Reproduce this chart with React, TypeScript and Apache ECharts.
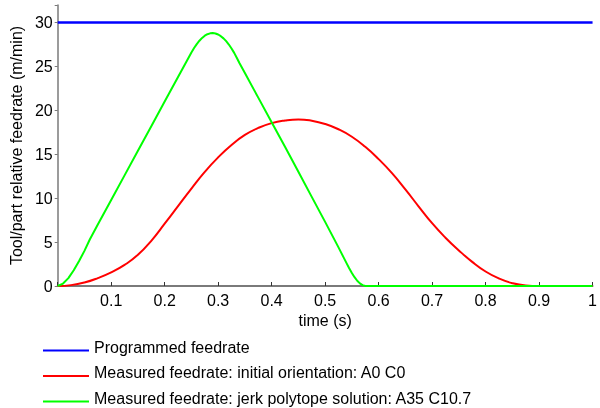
import React, { useEffect, useRef } from "react";
import * as echarts from "echarts";

// Programmed feedrate (constant)
const programmedTime = [0, 1];
const programmedFeed = [30, 30];

// Measured feedrate, initial orientation A0 C0
const initialTime = [
  0, 0.025, 0.05, 0.075, 0.1, 0.125, 0.15, 0.175, 0.2, 0.225, 0.25, 0.275, 0.3,
  0.325, 0.35, 0.375, 0.4, 0.425, 0.45, 0.475, 0.5, 0.525, 0.55, 0.575, 0.6,
  0.625, 0.65, 0.675, 0.7, 0.725, 0.75, 0.775, 0.8, 0.825, 0.85, 0.875, 0.9,
  1.0,
];
const initialFeed = [
  0, 0.1, 0.4, 0.9, 1.55, 2.4, 3.55, 5.15, 7.1, 9.1, 11.1, 13.0, 14.65, 16.05,
  17.2, 18.0, 18.55, 18.85, 18.97, 18.82, 18.45, 17.85, 17.0, 15.85, 14.45,
  12.85, 11.0, 9.05, 7.15, 5.5, 4.05, 2.75, 1.65, 0.85, 0.32, 0.06, 0, 0,
];

// Measured feedrate, jerk polytope solution A35 C10.7
const polytopeTime = [
  0, 0.01, 0.02, 0.03, 0.04, 0.05, 0.06, 0.075, 0.1, 0.125, 0.15, 0.175, 0.2,
  0.225, 0.25, 0.255, 0.26, 0.265, 0.27, 0.275, 0.28, 0.285, 0.29, 0.295, 0.3,
  0.305, 0.31, 0.315, 0.32, 0.325, 0.33, 0.335, 0.34, 0.35, 0.375, 0.4, 0.425,
  0.45, 0.475, 0.5, 0.525, 0.53, 0.535, 0.54, 0.545, 0.55, 0.555, 0.56, 0.565,
  0.57, 0.575, 0.58, 0.6, 1.0,
];
const polytopeFeed = [
  0, 0.28, 0.9, 1.8, 2.85, 4.0, 5.3, 7.0, 9.8, 12.6, 15.4, 18.2, 21.0, 23.8,
  26.6, 27.1, 27.55, 27.93, 28.25, 28.5, 28.67, 28.77, 28.8, 28.76, 28.64,
  28.45, 28.2, 27.88, 27.5, 27.05, 26.55, 25.97, 25.37, 24.25, 21.45, 18.65,
  15.85, 13.0, 10.15, 7.3, 4.4, 3.8, 3.2, 2.6, 2.02, 1.48, 1.0, 0.6, 0.3, 0.1,
  0.01, 0, 0, 0,
];

const seriesNames = [
  "Programmed feedrate",
  "Measured feedrate: initial orientation: A0 C0",
  "Measured feedrate: jerk polytope solution: A35 C10.7",
];
const seriesColors = ["#0000ff", "#ff0000", "#00ff00"];
const seriesSmooth: (boolean | number)[] = [false, 0.5, false];

const xTicks = [0, 0.1, 0.2, 0.3, 0.4, 0.5, 0.6, 0.7, 0.8, 0.9, 1];

const zip = (xs: number[], ys: number[]) => xs.map((x, i) => [x, ys[i]]);

const FONT = "'Liberation Sans', Arial, sans-serif";
const AXIS_GRAY = "#7a7a7a";

// Legend key: a 46x2 bar sitting low in a 46x9 box, so the label reads slightly above it
const LEGEND_ICON = "path://M0,0L0.01,0L0.01,0.01ZM0,7L46,7L46,9L0,9Z";

export default function App() {
  const ref = useRef<HTMLDivElement>(null);

  useEffect(() => {
    if (!ref.current) return;
    const chart = echarts.init(ref.current, undefined, { renderer: "svg" });
    const datasets = [
      zip(programmedTime, programmedFeed),
      zip(initialTime, initialFeed),
      zip(polytopeTime, polytopeFeed),
    ];
    chart.setOption({
      animation: false,
      textStyle: { fontFamily: FONT },
      grid: { left: 56, right: 1, top: 5, bottom: 122, containLabel: false },
      xAxis: {
        type: "value",
        min: 0,
        max: 1,
        interval: 0.1,
        name: "time (s)",
        nameLocation: "middle",
        nameGap: 23,
        nameTextStyle: { fontSize: 16, color: "#000", fontFamily: FONT },
        axisLine: { show: true, lineStyle: { color: AXIS_GRAY, width: 2 } },
        axisTick: {
          show: true,
          inside: true,
          length: 4,
          lineStyle: { color: "#333", width: 1 },
        },
        axisLabel: {
          fontSize: 16,
          color: "#000",
          margin: 6,
          fontFamily: FONT,
          formatter: (v: number) =>
            v === 0 ? "" : String(xTicks.find((t) => Math.abs(t - v) < 1e-9) ?? v),
        },
        splitLine: { show: false },
      },
      yAxis: {
        type: "value",
        min: 0,
        max: 32,
        interval: 5,
        name: "Tool/part relative feedrate (m/min)",
        nameLocation: "middle",
        nameGap: 29,
        nameTextStyle: { fontSize: 16, color: "#000", fontFamily: FONT },
        axisLine: { show: true, lineStyle: { color: AXIS_GRAY, width: 1.5 } },
        axisTick: {
          show: true,
          inside: false,
          length: 3,
          lineStyle: { color: AXIS_GRAY, width: 1 },
        },
        axisLabel: {
          fontSize: 16,
          color: "#000",
          margin: 5,
          fontFamily: FONT,
          formatter: (v: number) => (v > 30 ? "" : String(v)),
        },
        splitLine: { show: false },
      },
      legend: {
        orient: "vertical",
        left: 43,
        top: 339,
        padding: 0,
        icon: LEGEND_ICON,
        itemWidth: 46,
        itemHeight: 9,
        itemGap: 9.5,
        data: seriesNames.map((name, i) => ({
          name,
          itemStyle: { color: seriesColors[i] },
        })),
        textStyle: {
          fontSize: 16,
          lineHeight: 16,
          color: "#000",
          fontFamily: FONT,
        },
      },
      series: datasets.map((d, i) => ({
        name: seriesNames[i],
        type: "line",
        data: d,
        showSymbol: false,
        symbol: "none",
        smooth: seriesSmooth[i],
        color: seriesColors[i],
        lineStyle: {
          color: seriesColors[i],
          width: i === 0 ? 2.5 : 2,
          join: "round",
        },
        z: i === 0 ? 2 : 3 + i,
      })),
    });
    return () => chart.dispose();
  }, []);

  return (
    <div
      ref={ref}
      style={{ position: "fixed", left: 0, top: 0, width: 600, height: 408 }}
    />
  );
}
